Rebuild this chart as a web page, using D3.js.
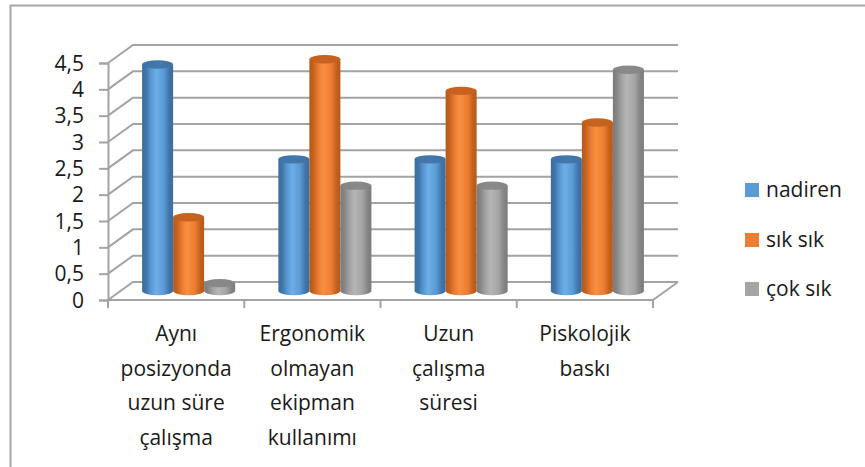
<!DOCTYPE html>
<html>
<head>
<meta charset="utf-8">
<script src="https://cdn.jsdelivr.net/npm/d3@7"></script>
<style>
  html, body { margin: 0; padding: 0; background: #fff; }
  svg { display: block; }
  text { font-family: "Open Sans", "Noto Sans", sans-serif; fill: #1a1a1a; }
</style>
</head>
<body>
<svg id="chart" width="865" height="467"></svg>
<script>
// Categories (line breaks mark how each label wraps under its group)
const categories = [
  "Aynı\nposizyonda\nuzun süre\nçalışma",
  "Ergonomik\nolmayan\nekipman\nkullanımı",
  "Uzun\nçalışma\nsüresi",
  "Piskolojik\nbaskı"
];
const seriesNames = ["nadiren", "sık sık", "çok sık"];
const nadiren = [4.3, 2.5, 2.5, 2.5];
const sikSik  = [1.4, 4.4, 3.8, 3.2];
const cokSik  = [0.15, 2.0, 2.0, 4.2];
const yTicks  = [0, 0.5, 1, 1.5, 2, 2.5, 3, 3.5, 4, 4.5];
const tickLabels = ["0", "0,5", "1", "1,5", "2", "2,5", "3", "3,5", "4", "4,5"];
const seriesColors = ["#5B9BD5", "#ED7D31", "#A5A5A5"];

const seriesValues = [nadiren, sikSik, cokSik];

const svg = d3.select("#chart");

// chart frame
svg.append("path")
  .attr("d", "M10.5,467 L10.5,5.5 L865,5.5")
  .attr("fill", "none").attr("stroke", "#a6a6a6").attr("stroke-width", 2);

// 3D box geometry: front plane, depth offset to the back wall
const depth = { dx: 25, dy: -18 };
const x0 = 108, x1 = 653;
const y = d3.scaleLinear().domain([0, 4.5]).range([300, 63]);
const xCat = d3.scaleBand().domain(d3.range(categories.length)).range([x0, x1]);
const xGroup = d3.scaleBand().domain(d3.range(categories.length)).range([x0, x1])
  .paddingInner(0.317).paddingOuter(0.1585);
const xSeries = d3.scaleBand().domain(d3.range(seriesNames.length)).range([0, xGroup.bandwidth()]);

const gridColor = "#a3a3a3";
const grid = svg.append("g").attr("fill", "none").attr("stroke", gridColor).attr("stroke-width", 2);

// back-wall gridlines and side-wall diagonals
yTicks.forEach(t => {
  const yf = y(t), yb = y(t) + depth.dy;
  grid.append("path")
    .attr("d", `M${x0},${yf} L${x0 + depth.dx},${yb} L${x1 + depth.dx},${yb}`);
});
// floor outline
grid.append("path")
  .attr("d", `M${x0},${y(0)} L${x1},${y(0)} L${x1 + depth.dx},${y(0) + depth.dy}`);

// value axis with left ticks
const yAxis = d3.axisLeft(y).tickValues(yTicks)
  .tickFormat((d, i) => tickLabels[i]).tickSize(9).tickPadding(15);
const yg = svg.append("g").attr("transform", `translate(${x0},0)`).call(yAxis);
yg.select(".domain").attr("stroke", gridColor).attr("stroke-width", 2);
yg.selectAll(".tick line").attr("stroke", gridColor).attr("stroke-width", 2);
yg.selectAll(".tick text").attr("font-size", 21).attr("fill", "#1a1a1a")
  .attr("font-family", "'Open Sans', sans-serif").attr("dy", "0.34em");

// category ticks along the front floor edge
const catBounds = d3.range(categories.length + 1).map(i => i < categories.length ? xCat(i) : x1);
svg.append("g").selectAll("line").data(catBounds).join("line")
  .attr("x1", d => d).attr("x2", d => d)
  .attr("y1", y(0)).attr("y2", y(0) + 8)
  .attr("stroke", gridColor).attr("stroke-width", 2);

// category labels
const catG = svg.append("g");
categories.forEach((c, i) => {
  const t = catG.append("text")
    .attr("text-anchor", "middle").attr("font-size", 21)
    .attr("x", xCat(i) + xCat.bandwidth() / 2).attr("y", 341);
  c.split("\n").forEach((line, k) => {
    t.append("tspan").attr("x", xCat(i) + xCat.bandwidth() / 2)
      .attr("dy", k === 0 ? 0 : 34.5).text(line);
  });
});

// cylinder shading
const defs = svg.append("defs");
const shade = [
  { edge: "#3d6d9e", mid: "#5b9bd5", hi: "#6eaee8", dark: "#3f73a8", top: "#4478ad" },
  { edge: "#b3591a", mid: "#ed7d31", hi: "#f88f42", dark: "#c2611f", top: "#c9631f" },
  { edge: "#7a7a7a", mid: "#a5a5a5", hi: "#b5b5b5", dark: "#858585", top: "#8a8a8a" }
];
shade.forEach((s, j) => {
  const g = defs.append("linearGradient").attr("id", "cyl" + j)
    .attr("x1", "0%").attr("x2", "100%").attr("y1", "0%").attr("y2", "0%");
  [[0, s.edge], [0.12, s.dark], [0.3, s.mid], [0.45, s.hi], [0.7, s.mid], [0.88, s.dark], [1, s.edge]]
    .forEach(([o, c]) => g.append("stop").attr("offset", o).attr("stop-color", c));
  const gt = defs.append("linearGradient").attr("id", "top" + j)
    .attr("x1", "0%").attr("x2", "100%").attr("y1", "0%").attr("y2", "0%");
  [[0, s.dark], [0.5, s.top], [1, s.dark]]
    .forEach(([o, c]) => gt.append("stop").attr("offset", o).attr("stop-color", c));
});

// cylinders, drawn at mid-depth
const rx = xSeries.bandwidth() / 2, ry = 4.2;
const bars = [];
categories.forEach((c, i) => {
  seriesValues.forEach((vals, j) => {
    bars.push({ i, j, v: vals[i] });
  });
});
const barG = svg.append("g");
bars.forEach(b => {
  const cx = xGroup(b.i) + xSeries(b.j) + rx + depth.dx / 2;
  const yb = y(0) + depth.dy / 2;
  const yt = y(b.v) + depth.dy / 2;
  const left = cx - rx, right = cx + rx;
  barG.append("path")
    .attr("d", `M${left},${yt} L${left},${yb} A${rx},${ry} 0 0 0 ${right},${yb} L${right},${yt} Z`)
    .attr("fill", `url(#cyl${b.j})`);
  barG.append("ellipse")
    .attr("cx", cx).attr("cy", yt).attr("rx", rx).attr("ry", ry)
    .attr("fill", `url(#top${b.j})`);
});

// legend
const legend = svg.append("g");
const legendY = [190, 240, 289];
seriesNames.forEach((name, j) => {
  legend.append("rect").attr("x", 745).attr("y", legendY[j] - 7)
    .attr("width", 14).attr("height", 14).attr("fill", seriesColors[j]);
  legend.append("text").attr("x", 766).attr("y", legendY[j]).attr("dy", "0.35em")
    .attr("font-size", 21).text(name);
});
</script>
</body>
</html>
